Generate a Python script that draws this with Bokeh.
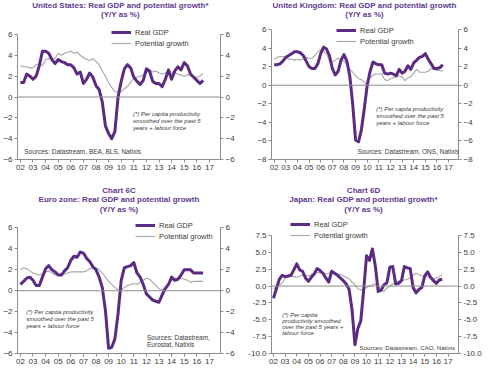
import pandas as pd
from bokeh.plotting import figure
from bokeh.layouts import gridplot
from bokeh.models import (Range1d, LinearAxis, FixedTicker, Span, Label, Legend,
                          LegendItem, PrintfTickFormatter)
from bokeh.embed import file_html
from bokeh.resources import INLINE

# ---------------- data ----------------
quarters = pd.period_range("2002Q1", "2016Q3", freq="Q")
year_labels = ["02", "03", "04", "05", "06", "07", "08", "09", "10", "11",
               "12", "13", "14", "15", "16", "17"]

us_gdp = [1.4, 1.4, 2.2, 2.0, 1.7, 2.0, 3.0, 4.4, 4.4, 4.2, 3.6, 3.2,
          3.6, 3.4, 3.3, 3.1, 3.1, 2.8, 2.2, 2.4, 1.3, 1.7, 2.3, 1.9,
          1.1, 0.7, -0.5, -2.8, -3.5, -4.0, -3.3, 0.0, 1.5, 2.7, 3.1, 2.8,
          1.9, 1.5, 1.2, 1.6, 2.7, 2.5, 1.5, 1.3, 1.3, 1.0, 1.7, 2.6,
          1.7, 2.5, 2.9, 2.6, 3.3, 3.0, 2.2, 1.9, 1.6, 1.3, 1.6]
us_pot = [3.0, 2.9, 2.9, 2.8, 2.8, 3.1, 3.2, 3.0, 3.6, 3.7, 3.6, 3.7,
          4.2, 4.0, 4.2, 4.3, 4.4, 4.2, 4.3, 4.0, 3.8, 3.6, 3.5, 3.7,
          3.4, 3.1, 2.5, 2.0, 1.4, 0.9, 0.5, 0.5, 0.5, 0.8, 1.0, 1.4,
          1.8, 1.9, 2.0, 2.1, 2.3, 2.6, 2.4, 2.5, 2.3, 2.2, 2.3, 2.4,
          2.4, 2.3, 2.2, 2.1, 2.0, 2.1, 2.2, 2.0, 1.9, 2.0, 2.3]

uk_gdp = [2.2, 2.2, 2.3, 2.6, 3.0, 3.2, 3.4, 3.6, 3.6, 3.5, 3.2, 2.6,
          2.0, 1.8, 1.8, 2.3, 3.4, 4.1, 3.9, 3.2, 1.8, 1.1, 1.5, 2.7,
          3.3, 2.6, 1.0, -2.0, -5.9, -6.1, -4.8, -2.5, 0.0, 1.5, 2.5, 2.3,
          2.2, 2.2, 1.3, 1.2, 1.3, 1.2, 1.0, 1.7, 1.3, 1.5, 2.1, 1.7,
          2.4, 2.7, 3.0, 3.1, 3.4, 2.8, 2.3, 1.8, 1.8, 1.9, 2.2]
uk_pot = [2.8, 3.0, 3.1, 3.1, 3.0, 2.8, 2.8, 2.7, 2.8, 2.7, 2.8, 3.0,
          2.9, 2.9, 3.2, 3.6, 3.8, 3.7, 3.4, 2.6, 2.5, 2.7, 2.9, 2.8,
          2.6, 2.2, 1.7, 1.4, 1.0, 0.7, 0.6, 0.3, 0.2, 0.8, 1.1, 1.2,
          1.2, 1.2, 0.6, 0.5, 0.7, 0.8, 1.0, 1.0, 0.9, 0.5, 0.8, 0.9,
          1.3, 1.7, 1.4, 1.4, 1.4, 1.5, 1.8, 1.7, 1.6, 1.6, 1.5]

ez_gdp = [0.6, 0.9, 1.2, 1.3, 1.0, 0.5, 0.5, 1.3, 2.1, 2.4, 2.0, 1.8,
          1.5, 1.5, 1.9, 2.2, 2.9, 3.3, 3.2, 3.7, 3.6, 3.1, 2.8, 2.3,
          2.0, 1.3, 0.3, -1.9, -5.5, -5.4, -4.6, -2.2, 1.0, 2.2, 2.3, 2.4,
          2.7, 1.7, 1.3, 0.6, -0.3, -0.6, -0.9, -1.0, -1.1, -0.4, 0.2, 0.6,
          1.3, 1.0, 1.1, 1.5, 2.0, 2.0, 2.0, 1.7, 1.7, 1.7, 1.7]
ez_pot = [2.0, 2.2, 2.1, 1.9, 1.7, 1.6, 1.5, 1.6, 1.8, 1.9, 1.7, 1.5,
          1.5, 1.6, 1.6, 1.7, 1.8, 1.8, 1.8, 1.8, 1.8, 1.9, 2.1, 2.2,
          2.2, 2.0, 1.7, 1.3, 0.9, 0.6, 0.3, 0.1, 0.1, 0.3, 0.5, 0.6,
          0.7, 0.6, 0.8, 1.0, 1.2, 1.1, 0.8, 0.5, 0.2, 0.1, 0.3, 0.6,
          1.0, 1.1, 1.2, 1.2, 1.1, 1.0, 0.8, 0.9, 0.9, 0.9, 0.9]

jp_gdp = [-1.8, -0.4, 1.0, 1.6, 1.4, 1.5, 1.6, 2.4, 3.3, 2.4, 2.2, 1.2,
          0.7, 1.3, 1.8, 2.6, 2.3, 1.9, 1.2, 0.6, 2.2, 1.9, 1.6, 1.2,
          0.8, 0.3, -0.5, -3.5, -8.7, -6.3, -5.2, -0.6, 4.5, 3.8, 5.5, 3.0,
          -0.8, -0.6, 0.2, 0.5, 2.8, 2.9, 0.3, 0.4, 0.8, 2.9, 2.7, 2.6,
          -0.2, -1.0, -0.5, -0.2, 1.5, 2.1, 1.3, 0.8, 0.4, 0.9, 1.0]
jp_pot = [-0.4, -0.1, 0.1, 0.5, 1.2, 1.3, 1.5, 1.4, 1.3, 1.5, 1.6, 1.6,
          1.5, 1.7, 1.9, 2.0, 2.0, 1.9, 1.8, 1.9, 2.0, 1.9, 1.8, 1.7,
          1.5, 1.3, 1.1, 0.6, 0.2, -0.4, -0.6, -0.4, -0.2, 0.0, 0.2, 0.3,
          0.0, -0.6, -0.8, -0.3, 0.0, 0.3, 0.5, 0.7, 0.8, 0.9, 1.0, 1.2,
          1.6, 1.9, 1.7, 1.5, 1.5, 1.4, 1.2, 1.0, 1.2, 1.4, 1.7]

xs = [q.year - 2000 + (q.quarter - 1) / 4 for q in quarters]

PURPLE = "#5b2a82"
TITLE_C = "#62398f"
GREY_LINE = "#a6a6a6"
AXIS_C = "#8c8c8c"
TXT_C = "#3a3a3a"
FONT = "Liberation Sans"

OX, OY = 8, 0  # where the grid starts on the page


def panel(col, row, w, h, frame_lr, frame_b, tick_top, yticks, xrange,
          gdp, pot, titles, title_x, title_y, legend_xy,
          note, note_xy, note_step, sources, src_xy, src_step, src_size="6.5px",
          fmt=None):
    ox = OX + col * 242
    oy = OY + row * 185
    fl, fr = frame_lr
    ymin, ymax = yticks[0], yticks[-1]
    x0, x1 = xrange
    ytop = ymin + (frame_b - oy) * (ymax - ymin) / (frame_b - tick_top)

    def dx(px):
        return x0 + (px - fl) * (x1 - x0) / (fr - fl)

    def dy(py):
        return ymin + (frame_b - py) * (ymax - ymin) / (frame_b - tick_top)

    p = figure(width=w, height=h, output_backend="svg",
               toolbar_location=None, x_range=Range1d(x0, x1),
               y_range=Range1d(ymin, ytop), min_border_left=fl - ox,
               min_border_right=ox + w - fr, min_border_top=0,
               min_border_bottom=oy + h - frame_b)
    p.outline_line_color = None
    p.xgrid.visible = False
    p.ygrid.visible = False
    p.add_layout(LinearAxis(), "right")
    for ax in p.axis:
        ax.axis_line_color = AXIS_C
        ax.major_tick_line_color = AXIS_C
        ax.major_tick_out = 3
        ax.major_tick_in = 0
        ax.minor_tick_line_color = None
        ax.major_label_text_font_size = "8px"
        ax.major_label_text_font = FONT
        ax.major_label_text_color = TXT_C
        ax.major_label_standoff = 2
    p.xaxis.ticker = FixedTicker(ticks=list(range(2, 18)))
    p.xaxis.major_label_overrides = {i + 2: lab for i, lab in enumerate(year_labels)}
    for ax in p.yaxis:
        ax.ticker = FixedTicker(ticks=yticks)
        ax.bounds = (ymin, ymax)
        if fmt:
            ax.formatter = PrintfTickFormatter(format=fmt)
    p.add_layout(Span(location=0, dimension="width", line_color=AXIS_C,
                      line_width=1))
    r2 = p.line(xs, pot, line_color=GREY_LINE, line_width=1.1)
    r1 = p.line(xs, gdp, line_color=PURPLE, line_width=3,
                line_join="round")
    lx, ltop = legend_xy
    leg = Legend(items=[LegendItem(label="Real GDP", renderers=[r1]),
                        LegendItem(label="Potential growth", renderers=[r2])],
                 location=(lx - fl, frame_b - ltop - 21), glyph_width=20,
                 glyph_height=10, label_height=10, spacing=1, padding=0,
                 margin=0, label_standoff=4, label_text_font_size="7.5px",
                 label_text_font=FONT, label_text_color=TXT_C,
                 background_fill_alpha=0, border_line_alpha=0)
    p.add_layout(leg, "center")
    for i, t in enumerate(titles):
        p.add_layout(Label(x=dx(title_x), y=dy(title_y[i]), text=t,
                           text_font=FONT, text_font_size="8px",
                           text_font_style="bold", text_color=TITLE_C,
                           text_align="center", text_baseline="middle"))
    for i, line in enumerate(note):
        p.add_layout(Label(x=dx(note_xy[0]), y=dy(note_xy[1] + note_step * i),
                           text=line, text_font=FONT, text_font_size="6px",
                           text_font_style="italic", text_color=TXT_C,
                           text_baseline="middle"))
    for i, line in enumerate(sources):
        p.add_layout(Label(x=dx(src_xy[0]), y=dy(src_xy[1] + src_step * i),
                           text=line, text_font=FONT, text_font_size=src_size,
                           text_color=TXT_C, text_baseline="middle"))
    return p


note3 = ["(*) Per capita productivity", "smoothed over the past 5",
         "years + labour force"]

p1 = panel(0, 0, 242, 185, (18, 229), 159, 34, [-6, -4, -2, 0, 2, 4, 6],
           (1.77, 17.88), us_gdp, us_pot,
           ["United States: Real GDP and potential growth*", "(Y/Y as %)"],
           125, [5, 14], (112, 27),
           note3, (138, 113), 7,
           ["Sources: Datastream, BEA, BLS, Natixis"], (25, 151), 7)

p2 = panel(1, 0, 242, 185, (271, 480), 159, 29, [-8, -6, -4, -2, 0, 2, 4, 6],
           (1.77, 17.85), uk_gdp, uk_pot,
           ["United Kingdom: Real GDP and potential growth", "(Y/Y as %)"],
           375, [5, 14], (336, 25),
           note3, (388, 108), 7,
           ["Sources: Datastream, ONS, Natixis"], (367, 151), 7)

p3 = panel(0, 1, 242, 184, (18, 228), 355, 228, [-6, -4, -2, 0, 2, 4, 6],
           (1.77, 17.88), ez_gdp, ez_pot,
           ["Chart 6C", "Euro zone: Real GDP and potential growth", "(Y/Y as %)"],
           123, [190, 199, 209], (136, 222),
           note3, (27, 313), 7,
           ["Sources: Datastream,", "Eurostat, Natixis"], (152, 339), 7)

p4 = panel(1, 1, 242, 184, (279, 470), 353, 235,
           [-10, -7.5, -5, -2.5, 0, 2.5, 5, 7.5],
           (1.83, 17.9), jp_gdp, jp_pot,
           ["Chart 6D", "Japan: Real GDP and potential growth*", "(Y/Y as %)"],
           373, [190, 199, 209], (298, 219),
           ["(*) Per capita", "productivity smoothed", "over the past 5 years +",
            "labour force"], (290, 314), 6,
           ["Sources: Datastream, CAO, Natixis"], (369, 347), 7,
           src_size="6.1px", fmt="%.1f")

grid = gridplot([[p1, p2], [p3, p4]], toolbar_location=None)

open("out.html", "w").write(file_html(grid, INLINE))
